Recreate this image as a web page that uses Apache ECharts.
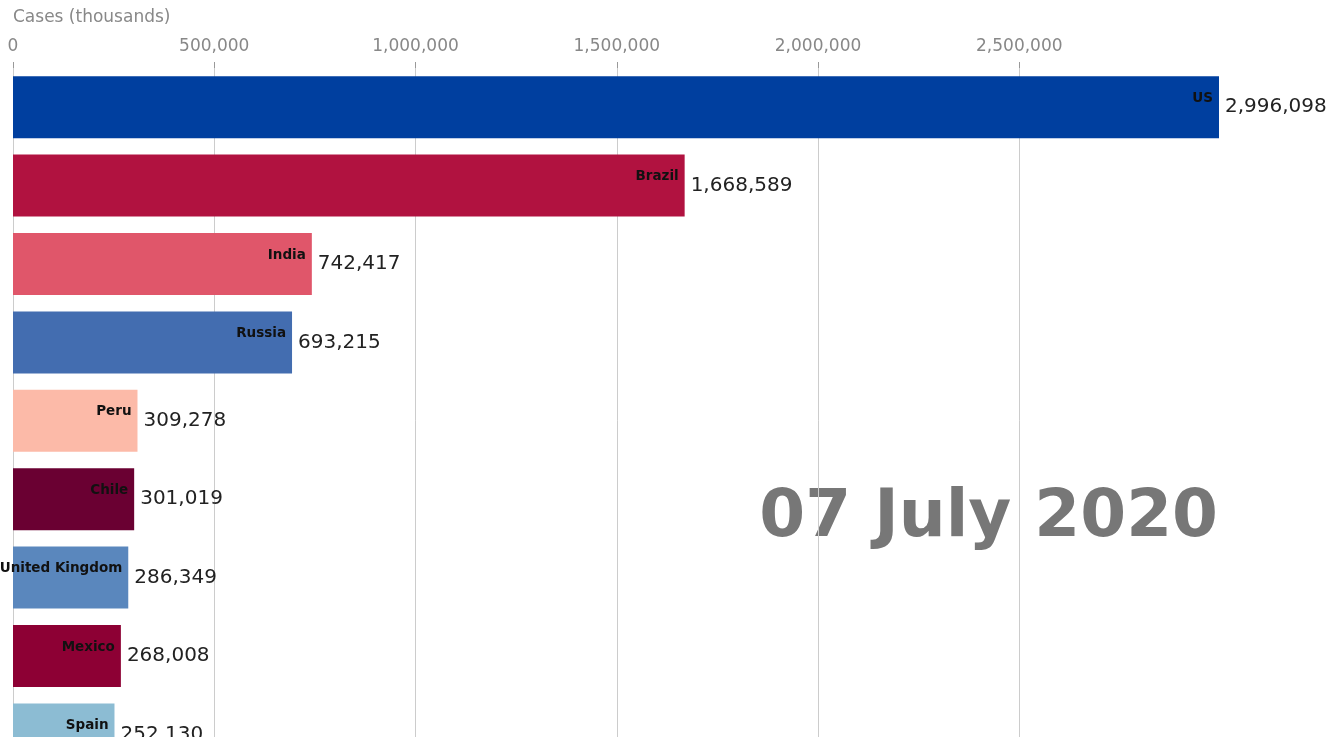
<!DOCTYPE html>
<html lang="en">
<head>
    <meta charset="UTF-8">
    <title>covid cases bar race frame</title>
    <script type="text/javascript" src="https://cdn.jsdelivr.net/npm/echarts@6/dist/echarts.min.js"></script>
    <style>
        html, body { margin: 0; padding: 0; background: #fff; overflow: hidden; }
    </style>
</head>
<body>
    <!-- taller than the window: the last bar is cut at the bottom like in the video frame -->
    <div id="main" style="width: 1330px; height: 800px;"></div>

    <script type="text/javascript">
        // data (07 July 2020)
        var countries = ['US', 'Brazil', 'India', 'Russia', 'Peru', 'Chile', 'United Kingdom', 'Mexico', 'Spain'];
        var cases = [2996098, 1668589, 742417, 693215, 309278, 301019, 286349, 268008, 252130];
        var barColors = ['#003f9f', '#b11240', '#e0566a', '#436db0', '#fcbaa8', '#6a0032', '#5a87bd', '#8d0034', '#8cbcd3'];
        var tickValues = [0, 500000, 1000000, 1500000, 2000000, 2500000];
        var dateText = '07 July 2020';

        var font = 'DejaVu Sans';
        var myChart = echarts.init(document.getElementById('main'));

        var items = cases.map(function (v, i) {
            return { value: v, itemStyle: { color: barColors[i] } };
        });

        myChart.setOption({
            animation: false,
            title: {
                text: 'Cases (thousands)',
                left: 8,
                top: 4,
                textStyle: { fontFamily: font, fontSize: 17, fontWeight: 'normal', color: '#888' }
            },
            grid: { left: 13, right: 111, top: 68, height: 705.6 },
            xAxis: {
                type: 'value',
                position: 'top',
                min: 0,
                max: 'dataMax',
                interval: 500000,
                axisLine: { show: false },
                axisTick: { show: true, length: 6, lineStyle: { color: '#999' }, customValues: tickValues },
                axisLabel: {
                    margin: 13,
                    fontFamily: font,
                    fontSize: 17,
                    color: '#888',
                    customValues: tickValues,
                    formatter: function (v) { return v.toLocaleString('en-US'); }
                },
                splitLine: { show: true, lineStyle: { color: '#cccccc', width: 1 } }
            },
            yAxis: {
                type: 'category',
                inverse: true,
                data: countries,
                axisLine: { show: false },
                axisTick: { show: false },
                axisLabel: { show: false }
            },
            graphic: [{
                type: 'text',
                x: 1218,
                y: 519,
                style: {
                    text: dateText,
                    fill: '#777',
                    font: 'bold 66px "DejaVu Sans"',
                    textAlign: 'right',
                    textVerticalAlign: 'middle'
                }
            }],
            series: [{
                name: 'cases',
                type: 'bar',
                barWidth: 62,
                data: items,
                label: {
                    show: true,
                    position: 'right',
                    distance: 6,
                    fontFamily: font,
                    fontSize: 20,
                    color: '#222',
                    formatter: function (p) { return p.value.toLocaleString('en-US'); }
                }
            }, {
                // country name on top of the same bars
                name: 'names',
                type: 'bar',
                barWidth: 62,
                barGap: '-100%',
                data: cases,
                silent: true,
                itemStyle: { color: 'rgba(0,0,0,0)' },
                label: {
                    show: true,
                    position: 'insideRight',
                    distance: 6,
                    offset: [0, -9],
                    fontFamily: font,
                    fontSize: 13.5,
                    fontWeight: 'bold',
                    color: '#111',
                    formatter: function (p) { return p.name; }
                }
            }]
        });
    </script>
</body>
</html>
